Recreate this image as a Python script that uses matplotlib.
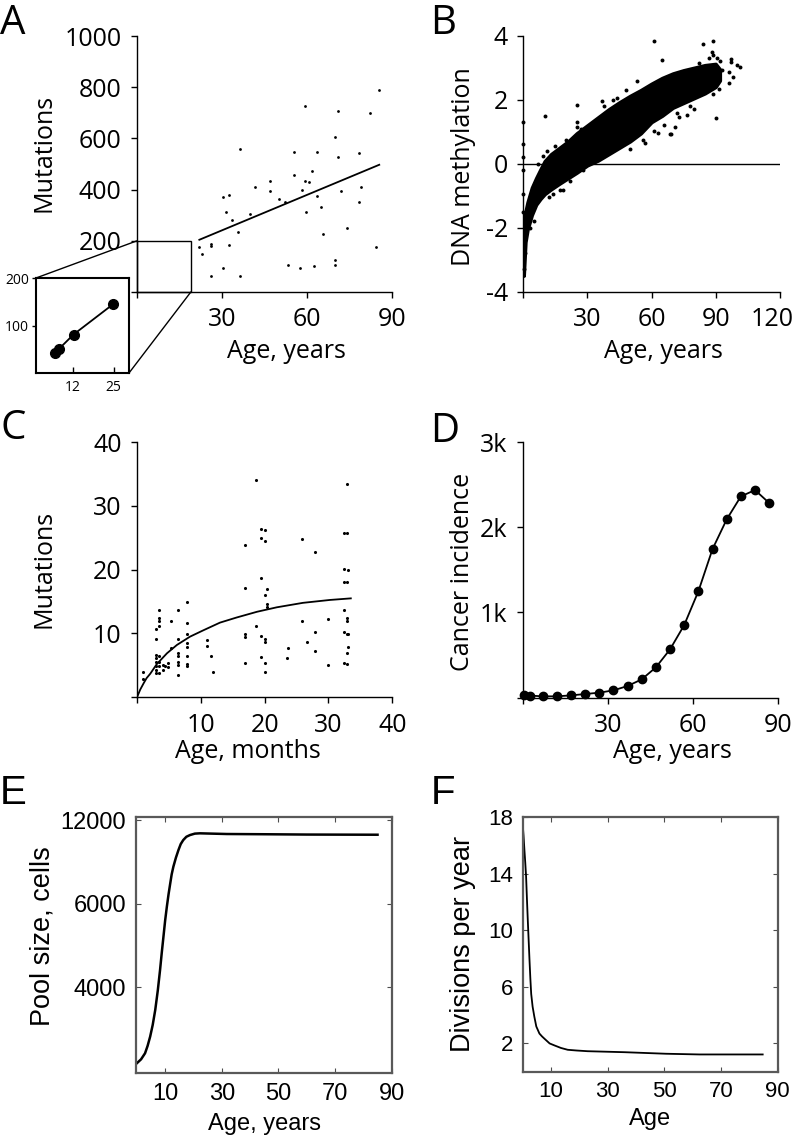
import numpy as np
import matplotlib
matplotlib.use("Agg")
import matplotlib.pyplot as plt
import matplotlib.transforms as mtrans
from matplotlib.patches import Rectangle, ConnectionPatch

plt.rcParams["axes.unicode_minus"] = False

# ── data: A (mutations vs age, years) ─────────────────────────────────────────
A_age = [21.9, 23.1, 26.1, 26.1, 26.1, 30.2, 30.2, 31.4, 32.3, 32.3, 33.5, 35.5,
         36.5, 36.5, 39.8, 41.8, 47.0, 47.0, 50.2, 52.1, 53.2, 55.4, 55.4, 57.5,
         58.4, 59.4, 59.4, 59.6, 60.6, 61.6, 62.6, 63.6, 63.6, 64.8, 65.6, 69.8,
         69.8, 69.8, 70.9, 70.9, 71.9, 74.0, 78.2, 78.2, 79.1, 82.3, 84.5, 85.4]
A_mut = [176, 150, 62, 187, 178, 372, 95, 312, 377, 183, 280, 234,
         559, 62, 303, 410, 434, 394, 363, 350, 105, 545, 458, 94,
         397, 726, 434, 312, 429, 471, 101, 545, 376, 332, 225, 607,
         126, 104, 707, 527, 393, 250, 542, 352, 410, 700, 177, 789]
A_fit_age = [22, 85.5]
A_fit_mut = [204, 497]
A_zoom_box = (19, 200)          # age, mutations covered by the inset

inset_age = [6.2, 7.3, 12.1, 24.9]
inset_mut = [43, 50, 81, 145]

# ── data: B (DNA methylation cloud: dense band + loose points) ────────────────
B_age   = [0.2, 1, 2, 4, 6, 8, 10, 13, 17, 21, 25, 30, 35, 40, 45, 50, 55, 60,
           65, 70, 75, 80, 85, 90, 92]
B_upper = [-1.7, -1.5, -1.2, -0.75, -0.45, -0.18, 0.08, 0.3, 0.5, 0.7, 0.95,
           1.2, 1.45, 1.7, 1.92, 2.12, 2.3, 2.5, 2.68, 2.82, 2.92, 3.0, 3.08,
           3.12, 2.95]
B_lower = [-3.5, -2.45, -2.05, -1.6, -1.28, -1.1, -0.95, -0.8, -0.62, -0.45,
           -0.28, -0.05, 0.1, 0.3, 0.5, 0.7, 0.95, 1.3, 1.5, 1.75, 1.9, 2.05,
           2.2, 2.4, 2.6]
B_pt_age = [0, 0, 0, 0, 0, 0, 0.5, 1, 3, 5, 10.2, 25, 25, 25, 36.7, 42.2, 17.2,
            18.5, 12, 14, 30, 33, 50, 57, 61, 63, 68.8, 69, 71, 66, 73, 76.6, 80,
            48, 53, 61, 64.9, 84, 89, 87, 88.5, 89, 90.5, 92, 93, 89, 91.4, 90,
            96.1, 96.1, 98.2, 97, 97, 100, 101.3, 7, 9, 11, 15, 20, 27, 38, 44,
            22, 28, 56, 72, 78, 82]
B_pt_val = [1.3, 0.62, 0.2, -0.21, -0.94, -1.51, -3.3, -2.8, -2.0, -1.8, 1.48,
            1.82, 1.3, 1.15, 1.96, 1.98, -0.83, -0.83, -1.05, -0.95, 0.0, 0.05,
            0.47, 0.64, 1.02, 0.96, 0.92, 0.94, 1.14, 1.2, 1.45, 1.51, 1.7,
            2.3, 2.6, 3.83, 3.25, 3.73, 3.83, 3.3, 3.5, 3.4, 3.3, 3.2, 2.92,
            2.19, 2.34, 1.43, 2.87, 2.52, 2.71, 3.28, 3.17, 3.07, 3.02, 0.0,
            0.25, 0.4, 0.55, 0.75, 1.1, 1.8, 2.05, -0.55, -0.2, 0.75, 1.6,
            1.8, 3.15]

# ── data: C (mutations vs age, months) ────────────────────────────────────────
C_age = [1.0, 1.0, 2.9, 2.9, 2.9, 2.9, 2.9, 2.9, 2.9, 2.9, 3.4, 3.4, 3.4, 3.4,
         3.4, 3.4, 3.4, 3.4, 4.1, 4.1, 4.4, 4.9, 4.9, 5.3, 5.3, 6.5, 6.5, 6.5,
         6.5, 6.5, 6.5, 6.5, 7.9, 7.9, 7.9, 7.9, 7.9, 7.9, 7.9, 7.9, 11.0, 11.0,
         11.6, 11.9, 16.9, 16.9, 16.9, 16.9, 16.9, 18.6, 18.7, 19.4, 19.4, 19.4,
         19.4, 19.4, 20.1, 20.1, 20.1, 20.1, 20.1, 20.1, 20.1, 20.4, 20.4, 20.4,
         23.5, 23.6, 25.9, 25.9, 26.7, 27.9, 27.9, 27.9, 30.0, 29.9, 32.5, 32.5,
         32.5, 32.5, 32.5, 32.5, 32.9, 32.9, 32.9, 32.9, 32.9, 32.9, 32.9, 32.9,
         33.1, 33.1, 33.1]
C_mut = [3.9, 2.9, 9.1, 10.7, 6.6, 6.1, 5.5, 4.9, 4.3, 3.8, 13.6, 12.5, 12.0,
         11.2, 6.4, 5.6, 4.9, 3.8, 5.1, 4.3, 4.9, 5.3, 4.8, 12.0, 7.7, 13.6, 9.2,
         6.9, 6.4, 5.5, 5.0, 3.5, 14.9, 11.7, 9.9, 8.5, 7.9, 6.4, 5.2, 4.9, 9.0,
         8.1, 6.5, 4.0, 23.9, 17.1, 9.9, 9.4, 5.4, 34.0, 11.1, 26.3, 24.9, 18.7,
         9.6, 6.3, 26.2, 24.5, 16.0, 9.2, 8.6, 5.4, 4.0, 16.9, 14.6, 14.1, 6.1,
         7.7, 24.8, 12.0, 8.6, 22.7, 10.3, 7.3, 12.3, 5.1, 13.7, 20.1, 18.1, 25.8,
         10.3, 5.3, 33.4, 25.8, 18.1, 12.5, 12.0, 9.9, 6.9, 5.2, 20.0, 9.9, 7.9]
C_fit_age = [0, 0.5, 1.04, 1.5, 2.08, 3.1, 4.7, 6.25, 8.3, 10.4, 13.0, 15.6,
             18.8, 21.9, 26.0, 30.2, 33.5]
C_fit_mut = [0, 1.2, 2.2, 3.0, 3.7, 5.2, 6.9, 8.2, 9.5, 10.5, 11.7, 12.5,
             13.4, 14.1, 14.8, 15.25, 15.5]

# ── data: D (cancer incidence) ────────────────────────────────────────────────
D_age = [0.5, 2.5, 7, 12, 17, 22, 27, 32, 37, 42, 47, 52, 57, 62, 67, 72, 77,
         82, 87]
D_inc = [27, 25, 16, 16, 27, 43, 59, 86, 137, 215, 356, 567, 852, 1248, 1744,
         2092, 2362, 2436, 2284]

# ── data: E (pool size) ───────────────────────────────────────────────────────
E_age  = [0, 1.5, 2.9, 3.8, 4.7, 5.6, 6.5, 7.4, 8.2, 8.8, 9.4, 10.0, 10.6,
          11.2, 11.8, 12.3, 12.9, 13.8, 14.7, 15.5, 16.4, 17.5, 18.8, 20.5,
          22.3, 31.8, 45, 60, 75, 85]
E_pool = [370, 560, 848, 1200, 1642, 2200, 2918, 3850, 4830, 5650, 6422, 7200,
          7856, 8450, 8974, 9400, 9768, 10200, 10566, 10850, 11044, 11200,
          11283, 11350, 11364, 11331, 11320, 11305, 11300, 11297]
E_yticks      = [4000, 8000, 12000]
E_yticklabels = ["4000", "6000", "12000"]

# ── data: F (divisions per year) ──────────────────────────────────────────────
F_age = [0, 0.3, 0.6, 0.9, 1.2, 1.5, 1.8, 2.1, 2.4, 2.7, 3.0, 3.5, 4.1, 4.8,
         5.9, 6.8, 7.7, 9.5, 11.2, 13.5, 15.9, 19, 22.9, 35.9, 50.6, 62.4, 84.7]
F_div = [17.5, 16.7, 15.7, 14.8, 13.8, 12.2, 10.7, 9.3, 7.9, 6.6, 5.5, 4.6,
         3.9, 3.2, 2.7, 2.5, 2.33, 2.0, 1.86, 1.68, 1.55, 1.5, 1.45, 1.38,
         1.27, 1.22, 1.22]

# ── style ─────────────────────────────────────────────────────────────────────
W, H = 796, 1140
SANS  = ["Open Sans", "DejaVu Sans"]
ARIAL = ["Liberation Sans", "DejaVu Sans"]
TICK_FS  = 18
LABEL_FS = 18

fig = plt.figure(figsize=(W / 100, H / 100), dpi=100)


def px_axes(l, t, r, b):
    return fig.add_axes([l / W, 1 - b / H, (r - l) / W, (b - t) / H])


def open_axes(ax):
    for s in ("top", "right"):
        ax.spines[s].set_visible(False)
    for s in ("left", "bottom"):
        ax.spines[s].set_linewidth(1.0)
    ax.tick_params(direction="out", length=4, width=1.0, pad=7, labelsize=TICK_FS)
    for lab in ax.get_xticklabels() + ax.get_yticklabels():
        lab.set_family(SANS)


def set_labels(ax, xl, yl, xpos, ypos, family=SANS, xfs=LABEL_FS, yfs=LABEL_FS):
    ax.set_xlabel(xl, fontsize=xfs, family=family, va="center")
    ax.set_ylabel(yl, fontsize=yfs, family=family, va="center")
    ax.xaxis.set_label_coords(*xpos)
    ax.yaxis.set_label_coords(*ypos)


def letter(x, y, s, family=SANS):
    fig.text(x / W, 1 - y / H, s, fontsize=29, family=family, ha="center", va="center")


# ── A ─────────────────────────────────────────────────────────────────────────
axA = px_axes(137, 36, 392, 292)
axA.scatter(A_age, A_mut, s=4, color="black", lw=0)
axA.plot(A_fit_age, A_fit_mut, color="black", lw=1.3)
axA.add_patch(Rectangle((0, 0), A_zoom_box[0], A_zoom_box[1], fill=False,
                        lw=1.0, ec="black", clip_on=False))
axA.set_xlim(0, 90); axA.set_ylim(0, 1000)
axA.set_xticks([0, 30, 60, 90]); axA.set_xticklabels(["", "30", "60", "90"])
axA.set_yticks([0, 200, 400, 600, 800, 1000])
axA.set_yticklabels(["", "200", "400", "600", "800", "1000"])
open_axes(axA)
set_labels(axA, "Age, years", "Mutations", (0.587, -0.234), (-0.365, 0.543))

axI = px_axes(36, 278, 129, 373)
axI.plot(inset_age, inset_mut, color="black", lw=1.3, marker="o", ms=7)
axI.set_xlim(0, 30); axI.set_ylim(0, 200)
axI.set_xticks([12, 25]); axI.set_yticks([100, 200])
for s in axI.spines.values():
    s.set_linewidth(1.5)
axI.tick_params(axis="x", direction="in", length=4, width=1, pad=5, labelsize=10)
axI.tick_params(axis="y", direction="out", length=3, width=1, pad=2, labelsize=10)
for lab in axI.get_xticklabels() + axI.get_yticklabels():
    lab.set_family(SANS)
fig.add_artist(ConnectionPatch((0, A_zoom_box[1]), (0, 1), "data", "axes fraction",
                               axesA=axA, axesB=axI, lw=1.0, color="black"))
fig.add_artist(ConnectionPatch((A_zoom_box[0], 0), (1, 0), "data", "axes fraction",
                               axesA=axA, axesB=axI, lw=1.0, color="black"))

# ── B ─────────────────────────────────────────────────────────────────────────
axB = px_axes(523.3, 35.7, 779.7, 291.7)
axB.axhline(0, color="black", lw=1.0)
axB.fill_between(B_age, B_lower, B_upper, color="black", lw=2.5, ec="black")
axB.scatter(B_pt_age, B_pt_val, s=8, color="black", lw=0, clip_on=False)
axB.set_xlim(0, 120); axB.set_ylim(-4, 4)
axB.set_xticks([0, 30, 60, 90, 120]); axB.set_xticklabels(["", "30", "60", "90", "120"])
axB.set_yticks([-4, -2, 0, 2, 4])
open_axes(axB)
# keep the last tick label inside the picture
last = axB.get_xticklabels()[-1]
last.set_transform(last.get_transform() + mtrans.ScaledTranslation(-8 / 100, 0, fig.dpi_scale_trans))
set_labels(axB, "Age, years", "DNA methylation", (0.546, -0.234), (-0.234, 0.487))

# ── C ─────────────────────────────────────────────────────────────────────────
axC = px_axes(137, 442, 392.3, 697.3)
axC.scatter(C_age, C_mut, s=5, color="black", lw=0)
axC.plot(C_fit_age, C_fit_mut, color="black", lw=1.3)
axC.set_xlim(0, 40); axC.set_ylim(0, 40)
axC.set_xticks([0, 10, 20, 30, 40]); axC.set_xticklabels(["", "10", "20", "30", "40"])
axC.set_yticks([0, 10, 20, 30, 40]); axC.set_yticklabels(["", "10", "20", "30", "40"])
open_axes(axC)
set_labels(axC, "Age, months", "Mutations", (0.436, -0.214), (-0.363, 0.502))

# ── D ─────────────────────────────────────────────────────────────────────────
axD = px_axes(522.7, 442, 777.7, 697.7)
axD.plot(D_age, D_inc, color="black", lw=1.3, marker="o", ms=6, clip_on=False)
axD.set_xlim(0, 90); axD.set_ylim(0, 3000)
axD.set_xticks([0, 30, 60, 90]); axD.set_xticklabels(["", "30", "60", "90"])
axD.set_yticks([0, 1000, 2000, 3000]); axD.set_yticklabels(["", "1k", "2k", "3k"])
open_axes(axD)
set_labels(axD, "Age, years", "Cancer incidence", (0.586, -0.212), (-0.237, 0.49))


# ── E / F: boxed panels ───────────────────────────────────────────────────────
def box_axes(ax):
    for s in ax.spines.values():
        s.set_linewidth(1.6)
        s.set_color("0.35")
    ax.tick_params(direction="in", length=3.5, width=0.8, color="0.3",
                   top=True, right=True, pad=7, labelsize=17)
    for lab in ax.get_xticklabels() + ax.get_yticklabels():
        lab.set_family(ARIAL)


axE = px_axes(135.7, 817.3, 391.7, 1073.3)
axE.plot(E_age, E_pool, color="black", lw=1.8)
axE.set_xlim(-0.4, 90); axE.set_ylim(-110, 12130)
axE.set_xticks([10, 30, 50, 70, 90])
axE.set_yticks(E_yticks); axE.set_yticklabels(E_yticklabels)
box_axes(axE)
set_labels(axE, "Age, years", "Pool size, cells", (0.505, -0.198), (-0.364, 0.534),
           family=ARIAL, xfs=17, yfs=19.5)

axF = px_axes(522.7, 817.3, 777.7, 1071.7)
axF.plot(F_age, F_div, color="black", lw=1.3)
axF.set_xlim(0, 90); axF.set_ylim(0, 18)
axF.set_xticks([10, 30, 50, 70, 90]); axF.set_yticks([2, 6, 10, 14, 18])
box_axes(axF)
axF.tick_params(labelsize=16)
set_labels(axF, "Age", "Divisions per year", (0.499, -0.186), (-0.236, 0.502),
           family=ARIAL, xfs=17, yfs=19.5)

letter(12.5, 23.5, "A"); letter(443.5, 23.5, "B")
letter(13.5, 428.5, "C"); letter(444.5, 432, "D")
letter(13.5, 792.5, "E", ARIAL); letter(442.5, 792.5, "F", ARIAL)

fig.savefig("out.png", dpi=100)
